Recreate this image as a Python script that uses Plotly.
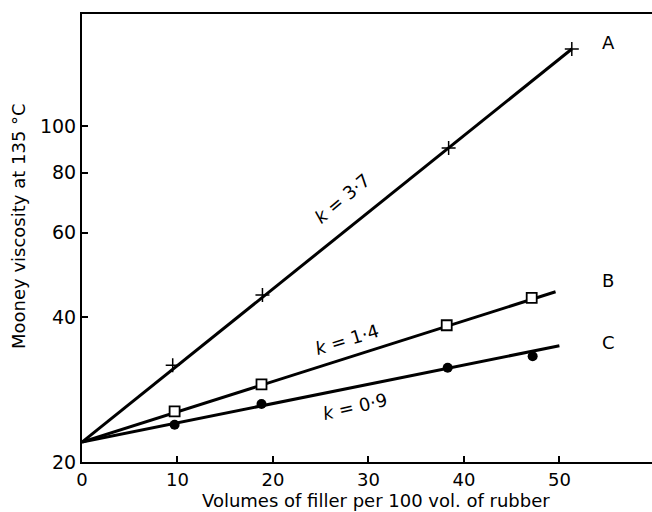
import plotly.graph_objects as go

# Data
a_x = [9.5, 18.9, 38.4, 51.3]
a_y = [31.8, 44.5, 90.0, 144.6]
b_x = [9.7, 18.8, 38.2, 47.1]
b_y = [25.5, 29.0, 38.5, 43.9]
c_x = [9.7, 18.8, 38.3, 47.2]
c_y = [23.9, 26.4, 31.4, 33.2]

# Fitted straight lines (log scale) from common origin
a_fit_x = [0, 51.3]
a_fit_y = [22.0, 144.6]
b_fit_x = [0, 49.6]
b_fit_y = [22.0, 45.2]
c_fit_x = [0, 50.0]
c_fit_y = [22.0, 34.9]

x_ticks = [0, 10, 20, 30, 40, 50]
y_ticks = [20, 40, 60, 80, 100]

x_title = "Volumes of filler per 100 vol. of rubber"
y_title = "Mooney viscosity at 135 °C"

FONT = "DejaVu Sans"

fig = go.Figure()
for fx, fy in [(a_fit_x, a_fit_y), (b_fit_x, b_fit_y), (c_fit_x, c_fit_y)]:
    fig.add_trace(go.Scatter(x=fx, y=fy, mode="lines",
                             line=dict(color="black", width=3), showlegend=False))

fig.add_trace(go.Scatter(x=a_x, y=a_y, mode="markers", showlegend=False,
                         marker=dict(symbol="cross-thin", size=10, color="black",
                                     line=dict(color="black", width=1.5))))
fig.add_trace(go.Scatter(x=b_x, y=b_y, mode="markers", showlegend=False,
                         marker=dict(symbol="square", size=10, color="white",
                                     line=dict(color="black", width=1.8))))
fig.add_trace(go.Scatter(x=c_x, y=c_y, mode="markers", showlegend=False,
                         marker=dict(symbol="circle", size=10, color="black")))

W, H = 652, 512
L, R, T, B = 82, 0, 14, 50
pw, ph = W - L - R, H - T - B


def px(xp, yp):
    return (xp - L) / pw, (H - B - yp) / ph


anns = [
    ("<i>k</i> = 3·7", 342, 198, -40, 18),
    ("<i>k</i> = 1·4", 347, 339, -17, 18),
    ("<i>k</i> = 0·9", 355, 406, -13, 18),
    ("A", 608, 42, 0, 18),
    ("B", 608, 280, 0, 18),
    ("C", 608, 342, 0, 18),
    (x_title, 376, 500, 0, 18),
    (y_title, 18, 226, -90, 18),
]
for text, xp, yp, ang, fs in anns:
    xx, yy = px(xp, yp)
    fig.add_annotation(x=xx, y=yy, xref="paper", yref="paper", text=text,
                       xanchor="center", yanchor="middle",
                       showarrow=False, textangle=ang,
                       font=dict(family=FONT, size=fs, color="black"))

fig.update_layout(
    width=W, height=H,
    margin=dict(l=L, r=R, t=T, b=B),
    paper_bgcolor="white", plot_bgcolor="white",
    font=dict(family=FONT, size=18, color="black"),
)
fig.update_xaxes(
    range=[0, 59.7], tickvals=x_ticks, ticktext=[str(v) for v in x_ticks],
    ticks="inside", ticklen=6, tickwidth=1.5, tickcolor="black",
    showline=True, linecolor="black", linewidth=2, mirror=True,
    showgrid=False, zeroline=False,
    tickfont=dict(family=FONT, size=18),
)
fig.update_yaxes(
    type="log", range=[1.30103, 2.2330],
    tickvals=y_ticks, ticktext=[str(v) for v in y_ticks],
    ticks="inside", ticklen=6, tickwidth=1.5, tickcolor="black",
    showline=True, linecolor="black", linewidth=2,
    showgrid=False, zeroline=False,
    tickfont=dict(family=FONT, size=19),
)

fig.write_html("out.html")
